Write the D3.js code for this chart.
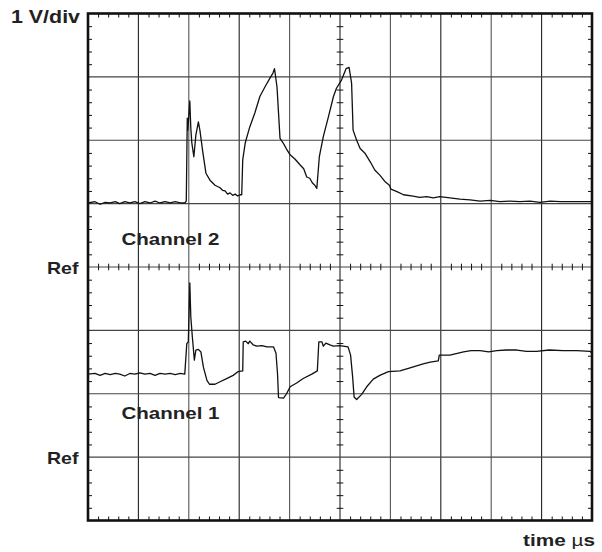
<!DOCTYPE html>
<html>
<head>
<meta charset="utf-8">
<script src="https://cdn.jsdelivr.net/npm/d3@7/dist/d3.min.js"></script>
<style>
  html, body { margin: 0; padding: 0; background: #fff; }
  svg { display: block; }
  text { font-family: "Liberation Sans", Arial, sans-serif; font-weight: bold; fill: #222; }
</style>
</head>
<body>
<div id="chart"></div>
<script>
// ---------------- data (time in µs / divisions, volts relative to channel Ref) ----------------
const ch2Time = [0,0.14,0.24,0.34,0.44,0.54,0.63,0.73,0.83,0.93,1.03,1.13,1.23,1.33,1.43,1.53,1.63,1.73,1.83,1.92,
  1.95,1.97,1.98,2.02,2.04,2.06,2.10,2.14,2.19,2.22,2.28,2.34,2.42,2.52,2.57,2.62,2.67,2.72,2.77,2.82,2.87,2.92,2.97,3.02,3.05,
  3.07,3.12,3.21,3.31,3.41,3.51,3.61,3.67,3.70,3.75,3.81,3.87,3.94,4.01,4.11,4.21,4.28,4.34,4.40,4.45,4.50,4.54,
  4.59,4.67,4.77,4.87,4.93,5.03,5.12,5.18,5.23,5.26,5.33,5.40,5.50,5.60,5.69,5.79,5.89,5.98,6.01,
  6.13,6.26,6.45,6.58,6.72,6.85,6.98,7.18,7.38,7.58,7.78,7.98,8.17,8.37,8.57,8.77,8.97,9.17,9.37,9.56,9.76,10.0];
const ch2Volts = [1.01,1.03,0.99,1.02,1.01,1.03,1.00,1.03,1.01,1.03,1.00,1.03,1.01,1.04,1.01,1.03,1.01,1.03,1.01,1.01,
  1.04,2.35,2.16,2.62,2.19,1.96,1.74,2.08,2.29,2.16,1.80,1.48,1.37,1.29,1.27,1.25,1.21,1.20,1.15,1.17,1.13,1.15,1.12,1.14,1.14,
  1.69,1.96,2.21,2.43,2.69,2.84,2.98,3.06,3.13,2.84,2.03,1.96,1.86,1.77,1.70,1.61,1.55,1.42,1.40,1.33,1.29,1.24,
  1.74,2.06,2.37,2.69,2.82,2.95,3.13,3.15,2.90,2.16,2.00,1.87,1.79,1.66,1.53,1.45,1.35,1.29,1.23,
  1.19,1.14,1.12,1.10,1.11,1.09,1.11,1.09,1.07,1.06,1.04,1.05,1.03,1.04,1.03,1.04,1.02,1.04,1.03,1.03,1.03,1.03];

const ch1Time = [0,0.14,0.24,0.34,0.44,0.54,0.63,0.73,0.83,0.93,1.03,1.13,1.23,1.33,1.43,1.53,1.63,1.73,1.83,1.92,
  1.96,1.99,2.02,2.04,2.07,2.11,2.14,2.19,2.24,2.29,2.36,2.41,2.52,2.62,2.75,2.88,2.98,3.07,
  3.08,3.13,3.18,3.21,3.28,3.35,3.45,3.55,3.68,3.73,3.76,3.78,3.88,3.94,4.01,4.14,4.27,4.44,4.55,
  4.58,4.64,4.67,4.72,4.80,4.87,5.00,5.16,5.21,5.25,5.28,5.33,5.43,5.53,5.66,5.79,5.96,6.19,6.39,6.65,6.79,6.95,
  6.97,7.18,7.45,7.60,7.78,7.95,8.11,8.30,8.51,8.70,8.90,9.15,9.43,9.70,9.96,10.0];
const ch1Volts = [1.31,1.32,1.29,1.32,1.30,1.32,1.31,1.28,1.32,1.31,1.33,1.31,1.32,1.29,1.32,1.31,1.32,1.30,1.32,1.31,
  1.79,1.82,2.75,2.21,1.90,1.53,1.69,1.70,1.66,1.42,1.21,1.15,1.15,1.19,1.24,1.29,1.35,1.36,
  1.82,1.83,1.79,1.83,1.77,1.75,1.76,1.74,1.74,1.64,1.32,0.94,0.93,1.00,1.11,1.17,1.24,1.31,1.36,
  1.82,1.82,1.75,1.80,1.77,1.75,1.76,1.74,1.61,1.27,0.95,0.91,0.99,1.11,1.23,1.29,1.35,1.36,1.41,1.47,1.50,1.52,
  1.61,1.61,1.66,1.68,1.68,1.66,1.68,1.69,1.69,1.67,1.67,1.69,1.68,1.68,1.67,1.64];

const channelNames = ["Channel 2", "Channel 1"];
const refDivs = [0, -3];            // position of each channel's Ref line in divisions from centre
const refLabel = "Ref";
const scaleLabel = "1 V/div";
const timeLabel = ["time ", "µ", "s"];

// ---------------- layout ----------------
const W = 602, H = 552;
const L = 88, R = 592, T = 13.5, B = 520.5;

const svg = d3.select("#chart").append("svg").attr("width", W).attr("height", H);

const x = d3.scaleLinear().domain([0, 10]).range([L, R]);
const y = d3.scaleLinear().domain([-4, 4]).range([B, T]);

// grid
const g = svg.append("g");
g.selectAll(".vg").data(d3.range(1, 10)).join("line")
  .attr("x1", d => x(d)).attr("x2", d => x(d)).attr("y1", T).attr("y2", B)
  .attr("stroke", (d, i) => i % 2 === 0 ? "#222" : "#555").attr("stroke-width", 1.1);
g.selectAll(".hg").data(d3.range(-3, 4)).join("line")
  .attr("x1", L).attr("x2", R).attr("y1", d => y(d)).attr("y2", d => y(d))
  .attr("stroke", "#444").attr("stroke-width", 1.1);

// minor ticks on edges
const minorX = d3.range(0, 50).filter(i => i % 5 !== 0).map(i => i / 5);
const minorY = d3.range(-20, 20).filter(i => i % 5 !== 0).map(i => i / 5);
const tickStyle = sel => sel.call(s => s.select(".domain").remove())
  .call(s => s.selectAll("text").remove())
  .call(s => s.selectAll("line").attr("stroke", "#111").attr("stroke-width", 1));

svg.append("g").attr("transform", `translate(0,${T})`)
  .call(d3.axisBottom(x).tickValues(minorX).tickSize(4)).call(tickStyle);
svg.append("g").attr("transform", `translate(0,${B})`)
  .call(d3.axisTop(x).tickValues(minorX).tickSize(4)).call(tickStyle);
svg.append("g").attr("transform", `translate(${L},0)`)
  .call(d3.axisRight(y).tickValues(minorY).tickSize(4)).call(tickStyle);
svg.append("g").attr("transform", `translate(${R},0)`)
  .call(d3.axisLeft(y).tickValues(minorY).tickSize(4)).call(tickStyle);

// centre crosshair ticks
svg.append("g").attr("transform", `translate(${x(5) - 3.3},0)`)
  .call(d3.axisRight(y).tickValues(minorY).tickSize(6.6)).call(tickStyle);
svg.append("g").attr("transform", `translate(0,${y(0) - 3.3})`)
  .call(d3.axisBottom(x).tickValues(minorX).tickSize(6.6)).call(tickStyle);

// traces
const line = d3.line().x(d => x(d[0])).y(d => y(d[1]));
const series = [
  { t: ch2Time, v: ch2Volts, ref: refDivs[0] },
  { t: ch1Time, v: ch1Volts, ref: refDivs[1] }
];
series.forEach(s => {
  const pts = s.t.map((t, i) => [t, s.v[i] + s.ref]);
  svg.append("path").datum(pts).attr("d", line)
    .attr("fill", "none").attr("stroke", "#111").attr("stroke-width", 1.3)
    .attr("stroke-linejoin", "round");
});

// frame
svg.append("rect").attr("x", L).attr("y", T).attr("width", R - L).attr("height", B - T)
  .attr("fill", "none").attr("stroke", "#111").attr("stroke-width", 2.6);

// labels
svg.append("text").attr("x", 11).attr("y", 23).attr("font-size", 17.5)
  .attr("textLength", 69).attr("lengthAdjust", "spacingAndGlyphs").text(scaleLabel);

refDivs.forEach(r => {
  svg.append("text").attr("x", 47).attr("y", y(r) + 6.5).attr("font-size", 17)
    .attr("textLength", 31.5).attr("lengthAdjust", "spacingAndGlyphs").text(refLabel);
});

const chanY = [244.5, 418.5];
channelNames.forEach((n, i) => {
  svg.append("text").attr("x", 121.5).attr("y", chanY[i]).attr("font-size", 17)
    .attr("textLength", 98).attr("lengthAdjust", "spacingAndGlyphs").text(n);
});

const tl = svg.append("text").attr("x", 523).attr("y", 545.5).attr("font-size", 17)
  .attr("textLength", 72).attr("lengthAdjust", "spacingAndGlyphs");
tl.append("tspan").text(timeLabel[0]);
tl.append("tspan").attr("font-weight", "normal").text(timeLabel[1]);
tl.append("tspan").text(timeLabel[2]);
</script>
</body>
</html>
